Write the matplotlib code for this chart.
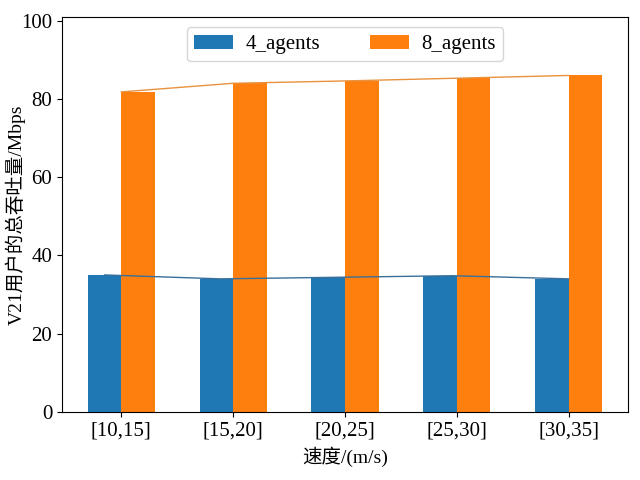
import numpy as np
import matplotlib.pyplot as plt

# data
speeds = ['[10,15]', '[15,20]', '[20,25]', '[25,30]', '[30,35]']
agents4 = [35.0, 34.0, 34.4, 34.8, 34.0]
agents8 = [81.8, 84.0, 84.6, 85.3, 86.0]

plt.rcParams['font.family'] = ['Liberation Serif', 'Noto Sans CJK SC']
plt.rcParams['font.size'] = 15

width = 0.3
x = np.arange(len(speeds))

fig = plt.figure(figsize=(6.4, 4.8), dpi=100)
ax = fig.add_axes([0.097, 0.142, 0.884, 0.823])

ax.bar(x - width / 2, agents4, width, color='#1f77b4', label='4_agents')
ax.bar(x + width / 2, agents8, width, color='#ff7f0e', label='8_agents')

# trend lines over the bar tops
ax.plot(np.linspace(-width / 2, x[-1], len(x)), agents4, color='#3a6f9a', lw=1)
ax.plot(x, agents8, color='#e8913e', lw=1)

ax.set_xticks(x)
ax.set_xticklabels(speeds)
ax.set_ylim(0, 101)
ax.set_yticks([0, 20, 40, 60, 80, 100])
ax.set_xlabel('速度/(m/s)', fontsize=14)
ax.set_ylabel('V21用户的总吞吐量/Mbps', fontsize=14)
ax.yaxis.set_label_coords(-0.064, 0.5)

ax.legend(loc='upper center', ncol=2, columnspacing=2.4, handlelength=1.85,
          handletextpad=0.6, borderpad=0.35, fontsize=15)

fig.savefig('out.png', dpi=100)
